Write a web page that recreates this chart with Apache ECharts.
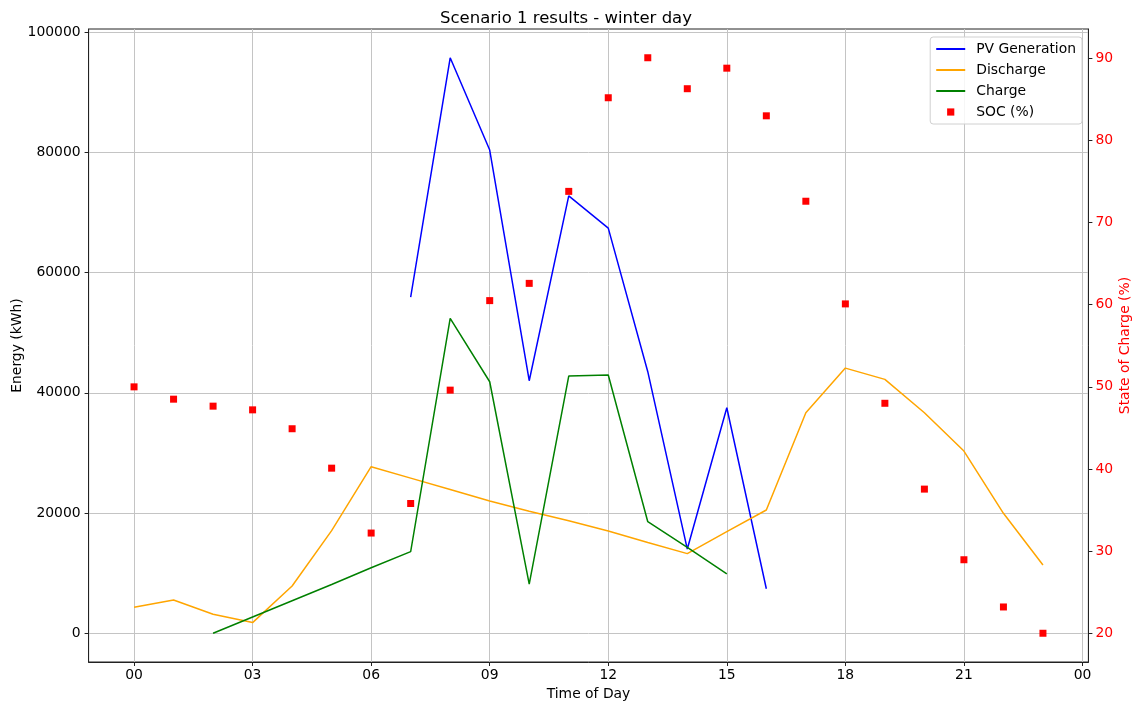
<!DOCTYPE html>
<html>
<head>
<meta charset="utf-8">
<script src="https://cdn.jsdelivr.net/npm/echarts@6/dist/echarts.min.js"></script>
<style>
html,body{margin:0;padding:0;background:#fff;}
#chart{width:1132px;height:701px;}
</style>
</head>
<body>
<div id="chart"></div>
<script>
// ---- data ----
const hours = [0,1,2,3,4,5,6,7,8,9,10,11,12,13,14,15,16,17,18,19,20,21,22,23];
const pvGeneration = [null,null,null,null,null,null,null,55900,95720,80370,42000,72760,67390,43500,14000,37500,7400,null,null,null,null,null,null,null];
const discharge = [4320,5530,3150,1770,7860,17060,27700,25800,23900,22000,20300,18700,17000,15100,13240,16900,20500,36680,44100,42230,36680,30300,19950,11350];
const charge = [null,null,0,2700,5400,8100,10900,13570,52370,41830,8150,42780,42950,18550,14300,9860,null,null,null,null,null,null,null,null];
const soc = [50.0,48.5,47.65,47.2,44.9,40.1,32.2,35.8,49.6,60.5,62.6,73.8,85.2,90.07,86.3,88.8,83.0,72.6,60.1,48.0,37.55,28.95,23.2,20.0];
const xTicks = [0,3,6,9,12,15,18,21,24];
const xTickLabels = ['00','03','06','09','12','15','18','21','00'];
const energyTicks = [0,20000,40000,60000,80000,100000];
const socTicks = [20,30,40,50,60,70,80,90];

function pairs(vals){
  const out = [];
  hours.forEach((h,i)=>{ if(vals[i]!==null) out.push([h, vals[i]]); });
  return out;
}

const FONT = 'DejaVu Sans';
const AX = '#222';
const GRID = '#c4c4c4';

const chart = echarts.init(document.getElementById('chart'), null, {renderer:'canvas'});
chart.setOption({
  animation:false,
  backgroundColor:'#fff',
  textStyle:{fontFamily:FONT},
  title:{
    text:'Scenario 1 results - winter day',
    left:'center', top:5,
    textStyle:{fontFamily:FONT,fontSize:16.5,fontWeight:'normal',color:'#000'}
  },
  grid:{left:88.6,right:43.6,top:29,bottom:39,containLabel:false,outerBoundsMode:'none',
    show:true,borderColor:AX,borderWidth:1,backgroundColor:'transparent'},
  legend:{
    orient:'vertical', right:50, top:37,
    padding:[5,6,5,5],
    backgroundColor:'rgba(255,255,255,0.85)',
    borderColor:'#d0d0d0', borderWidth:1, borderRadius:3,
    itemWidth:29, itemHeight:9, itemGap:7,
    textStyle:{fontFamily:FONT,fontSize:13.9,color:'#000',lineHeight:14,padding:[0,0,0,6]},
    data:[
      {name:'PV Generation', itemStyle:{opacity:0}},
      {name:'Discharge', itemStyle:{opacity:0}},
      {name:'Charge', itemStyle:{opacity:0}},
      {name:'SOC (%)'}
    ]
  },
  xAxis:{
    type:'value', min:-1.15, max:24.15,
    name:'Time of Day', nameLocation:'middle', nameGap:24,
    nameTextStyle:{fontFamily:FONT,fontSize:13.9,color:'#000'},
    axisLine:{show:true,onZero:false,lineStyle:{color:AX,width:1}},
    axisTick:{show:true,length:4,customValues:xTicks,lineStyle:{color:AX}},
    axisLabel:{customValues:xTicks,margin:6,fontFamily:FONT,fontSize:13.9,color:'#000',
      formatter:function(v){ const i = xTicks.indexOf(v); return i>=0 ? xTickLabels[i] : ''; }},
    splitLine:{show:true,lineStyle:{color:GRID,width:1}}
  },
  yAxis:[
    {
      type:'value', min:-4786, max:100506, position:'left',
      name:'Energy (kWh)', nameLocation:'middle', nameGap:64, nameMoveOverlap:false,
      nameTextStyle:{fontFamily:FONT,fontSize:13.9,color:'#000'},
      axisLine:{show:true,onZero:false,lineStyle:{color:AX,width:1}},
      axisTick:{show:true,length:4,customValues:energyTicks,lineStyle:{color:AX}},
      axisLabel:{customValues:energyTicks,margin:8,fontFamily:FONT,fontSize:13.9,color:'#000',
        formatter:function(v){ return String(v); }},
      splitLine:{show:true,lineStyle:{color:GRID,width:1}}
    },
    {
      type:'value', min:16.5, max:93.57, position:'right',
      name:'State of Charge (%)', nameLocation:'middle', nameGap:30, nameMoveOverlap:false,
      nameTextStyle:{fontFamily:FONT,fontSize:13.9,color:'#ff0000'},
      axisLine:{show:true,onZero:false,lineStyle:{color:AX,width:1}},
      axisTick:{show:true,length:4,customValues:socTicks,lineStyle:{color:AX}},
      axisLabel:{customValues:socTicks,margin:7,fontFamily:FONT,fontSize:13.9,color:'#ff0000',
        formatter:function(v){ return String(v); }},
      splitLine:{show:false}
    }
  ],
  series:[
    {name:'PV Generation',type:'line',data:pairs(pvGeneration),symbol:'none',
      lineStyle:{color:'#0000ff',width:1.5},itemStyle:{color:'#0000ff'},z:3},
    {name:'Discharge',type:'line',data:pairs(discharge),symbol:'none',
      lineStyle:{color:'#ffa500',width:1.5},itemStyle:{color:'#ffa500'},z:3},
    {name:'Charge',type:'line',data:pairs(charge),symbol:'none',
      lineStyle:{color:'#008000',width:1.5},itemStyle:{color:'#008000'},z:3},
    {name:'SOC (%)',type:'line',yAxisIndex:1,data:pairs(soc),symbol:'rect',symbolSize:7,
      showSymbol:true,showAllSymbol:true,
      lineStyle:{opacity:0,width:0},itemStyle:{color:'#ff0000'},z:4}
  ]
});
</script>
</body>
</html>
